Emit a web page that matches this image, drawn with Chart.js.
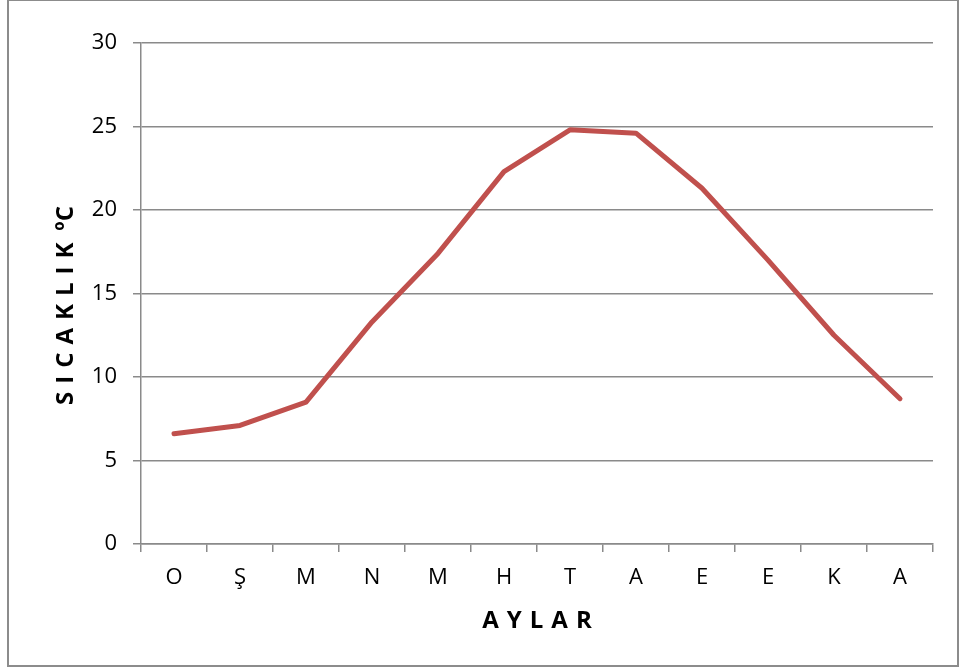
<!DOCTYPE html>
<html>
<head>
<meta charset="utf-8">
<script src="https://cdn.jsdelivr.net/npm/chart.js@4"></script>
<style>
    body { margin: 0; background: #fff; }
    #wrap { width: 960px; height: 670px; position: relative; }
</style>
</head>
<body>
<div id="wrap"><canvas id="linechart"></canvas></div>
<script>
// aylar (months) and temperatures
var aylar = ['O', 'Ş', 'M', 'N', 'M', 'H', 'T', 'A', 'E', 'E', 'K', 'A'];
var sicaklik = [6.6, 7.1, 8.5, 13.3, 17.4, 22.3, 24.8, 24.6, 21.3, 17.0, 12.5, 8.7];
var yTicks = [0, 5, 10, 15, 20, 25, 30];

var gridColor = '#8a8a8a';
var gap = '\u2004';

// grey frame round the whole chart
var frame = {
    id: 'frame',
    afterDraw: function(chart) {
        var ctx = chart.ctx;
        ctx.save();
        ctx.strokeStyle = '#8c8c8c';
        ctx.lineWidth = 2;
        ctx.strokeRect(8, 0, 950, 666);
        ctx.restore();
    }
};

const config = {
    type: 'line',
    data: {
        labels: aylar,
        datasets: [{
            data: sicaklik,
            borderColor: '#C0504D',
            backgroundColor: '#C0504D',
            borderWidth: 5,
            borderCapStyle: 'round',
            borderJoinStyle: 'round',
            pointRadius: 0,
            tension: 0
        }]
    },
    options: {
        responsive: true,
        maintainAspectRatio: false,
        animation: false,
        layout: {
            padding: { left: 0, top: 43, right: 27, bottom: 0 }
        },
        plugins: {
            legend: { display: false },
            tooltip: { enabled: false }
        },
        scales: {
            x: {
                offset: true,
                afterFit: function(scale) { scale.height = 126; },
                grid: {
                    offset: true,
                    drawOnChartArea: false,
                    drawTicks: true,
                    tickLength: 8,
                    color: gridColor,
                    lineWidth: 1.5
                },
                border: { display: true, color: gridColor, width: 1.5 },
                ticks: {
                    padding: 13,
                    color: '#000',
                    maxRotation: 0,
                    font: { family: 'Open Sans', size: 22 }
                },
                title: {
                    display: true,
                    text: ['A', 'Y', 'L', 'A', 'R'].join(gap),
                    color: '#000',
                    font: { family: 'Open Sans', size: 24, weight: 'bold' },
                    padding: { top: 0, bottom: 34 }
                }
            },
            y: {
                min: 0,
                max: 30,
                afterFit: function(scale) { scale.width = 141; },
                afterBuildTicks: function(scale) {
                    scale.ticks = yTicks.map(function(v) { return { value: v }; });
                },
                grid: {
                    drawTicks: true,
                    tickLength: 8,
                    color: gridColor,
                    lineWidth: 1.5
                },
                border: { display: true, color: gridColor, width: 1.5 },
                ticks: {
                    padding: 16,
                    color: '#000',
                    font: { family: 'Open Sans', size: 22 }
                },
                title: {
                    display: true,
                    text: ['S', 'I', 'C', 'A', 'K', 'L', 'I', 'K'].join(gap) + '\u2002\u00baC\u2002\u2002',
                    color: '#000',
                    font: { family: 'Open Sans', size: 24, weight: 'bold' },
                    padding: { top: 52, bottom: 0 }
                }
            }
        }
    },
    plugins: [frame]
};

var ctx = document.getElementById('linechart').getContext('2d');
var chart = new Chart(ctx, config);
</script>
</body>
</html>
